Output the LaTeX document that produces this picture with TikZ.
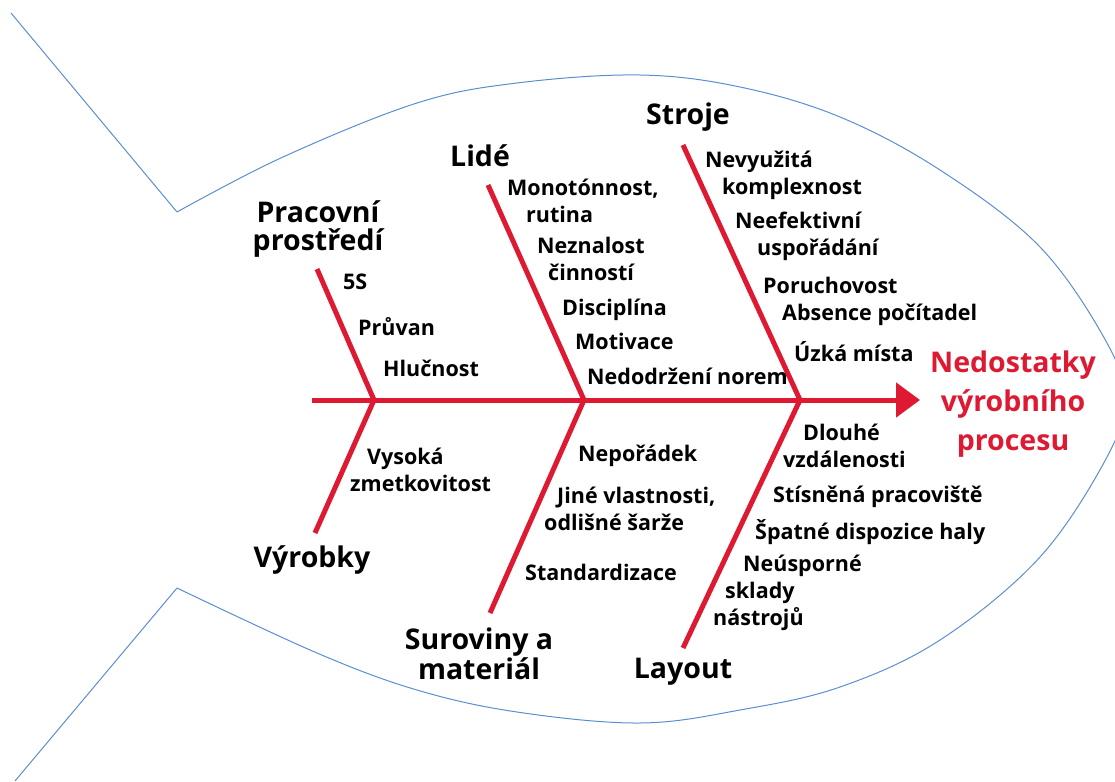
\documentclass[tikz,border=0pt]{standalone}
\usepackage{fontspec}
\setmainfont{Open Sans}
\usetikzlibrary{arrows.meta}
\definecolor{fishblue}{RGB}{91,142,208}
\definecolor{bonered}{RGB}{222,25,50}
\tikzset{
  outline/.style={draw=fishblue, line width=1pt},
  bone/.style={draw=bonered, line width=5pt},
  cause/.style={inner sep=0pt, anchor=west, align=left,
    font=\fontsize{21.5}{27}\selectfont\bfseries},
  category/.style={inner sep=0pt, align=center,
    font=\fontsize{28.5}{28}\selectfont\bfseries},
  effect/.style={inner sep=0pt, align=center, text=bonered,
    font=\fontsize{28.5}{39}\selectfont\bfseries}
}
\begin{document}
\begin{tikzpicture}[x=1pt, y=-1pt]
\useasboundingbox (0,0) rectangle (1115,781);
\begin{scope}
\clip (0,0) rectangle (1115,781);
% fish body and tail
\draw[outline] (11,13) -- (177,212);
\draw[outline] (177,588) -- (15,781);
\draw[outline] plot[smooth, tension=0.6] coordinates {
  (177,212) (283,157) (417,103) (517,83) (640,75) (740,87) (840,117)
  (940,170) (1040,247) (1107,343) (1124,400) (1107,457) (1040,557)
  (940,640) (840,687) (740,710) (640,723) (517,712) (417,690)
  (317,653) (177,588)};
\end{scope}

% spine and bones
\coordinate (spinestart) at (312,400);
\coordinate (spineend) at (920,400);
\coordinate (j1) at (374,400);
\coordinate (j2) at (584,400);
\coordinate (j3) at (800,400);
\coordinate (t1) at (317,269);
\coordinate (t2) at (488,185);
\coordinate (t3) at (683,145);
\coordinate (b1) at (315,533);
\coordinate (b2) at (490,613);
\coordinate (b3) at (683,648);

\draw[bone, -{Triangle[length=24pt, width=34pt]}] (spinestart) -- (spineend);
\draw[bone] (t1) -- (j1) -- (b1);
\draw[bone] (t2) -- (j2) -- (b2);
\draw[bone] (t3) -- (j3) -- (b3);

% effect
\node[effect] (effect) at (1013,404) {Nedostatky\\výrobního\\procesu};

% categories
\node[category] (env) at (318,229) {Pracovní\\prostředí};
\node[category] (people) at (480,156) {Lidé};
\node[category] (machines) at (688,117) {Stroje};
\node[category] (products) at (312,560) {Výrobky};
\node[category] (material) at (479,654) {Suroviny a\\materiál};
\node[category] (layout) at (683,672) {Layout};

% causes: working environment
\node[cause] (c5s) at (343,282) {5S};
\node[cause] (draft) at (358,327) {Průvan};
\node[cause] (noise) at (383,368) {Hlučnost};

% causes: people
\node[cause] (monotony) at (507,201) {Monotónnost,\\\hspace*{19pt}rutina};
\node[cause] (ignorance) at (537,259) {Neznalost\\\hspace*{11pt}činností};
\node[cause] (discipline) at (562,310) {Disciplína};
\node[cause] (motivation) at (575,341) {Motivace};
\node[cause] (norms) at (587,376) {Nedodržení norem};

% causes: machines
\node[cause] (complexity) at (705,175) {Nevyužitá\\\hspace*{17pt}komplexnost};
\node[cause] (arrangement) at (735,236) {Neefektivní\\\hspace*{22pt}uspořádání};
\node[cause] (failures) at (763,285) {Poruchovost};
\node[cause] (counters) at (782,315) {Absence počítadel};
\node[cause] (bottlenecks) at (794,352) {Úzká místa};

% causes: products
\node[cause] (scrap) at (350,470) {\hspace*{17pt}Vysoká\\zmetkovitost};

% causes: raw materials
\node[cause] (disorder) at (578,456) {Nepořádek};
\node[cause] (properties) at (544,509) {\hspace*{13pt}Jiné vlastnosti,\\odlišné šarže};
\node[cause] (standard) at (525,572) {Standardizace};

% causes: layout
\node[cause] (distances) at (783,446) {\hspace*{20pt}Dlouhé\\vzdálenosti};
\node[cause] (cramped) at (773,497) {Stísněná pracoviště};
\node[cause] (hall) at (755,532) {Špatné dispozice haly};
\node[cause] (stores) at (713,593) {\hspace*{30pt}Neúsporné\\\hspace*{12pt}sklady\\nástrojů};
\end{tikzpicture}
\end{document}
